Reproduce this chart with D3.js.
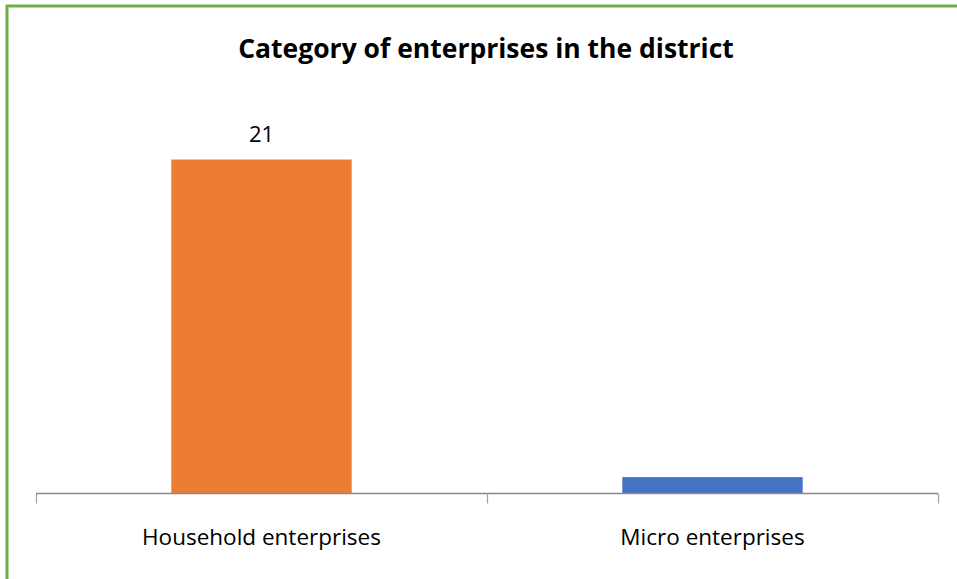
<!DOCTYPE html>
<html>
<head>
<meta charset="utf-8">
<script src="https://cdn.jsdelivr.net/npm/d3@7"></script>
<style>
  html, body { margin: 0; padding: 0; background: #fff; }
  svg { display: block; }
</style>
</head>
<body>
<div id="chart"></div>
<script>
// chart data
const categories = ["Household enterprises", "Micro enterprises"];
const values = [21, 1];
const valueLabels = ["21", ""];
const barColors = ["#ED7D31", "#4472C4"];
const yMax = 25;

const width = 957;
const height = 579;
const plot = {left: 36, right: 938, top: 96, bottom: 493};
const font = "'Open Sans', 'Liberation Sans', sans-serif";

const svg = d3.select("#chart")
  .append("svg")
  .attr("width", width)
  .attr("height", height);

// green frame (only top and left edges fall inside the picture)
svg.append("rect")
  .attr("x", 7)
  .attr("y", 6)
  .attr("width", width + 20)
  .attr("height", height + 20)
  .attr("fill", "none")
  .attr("stroke", "#70AD47")
  .attr("stroke-width", 3);

// title
svg.append("text")
  .attr("x", 486)
  .attr("y", 58)
  .attr("text-anchor", "middle")
  .attr("font-family", font)
  .attr("font-weight", "bold")
  .attr("font-size", "26.5px")
  .attr("fill", "#000")
  .text("Category of enterprises in the district");

// scales
const xScale = d3.scaleBand()
  .domain(categories)
  .range([plot.left, plot.right])
  .paddingInner(0.6)
  .paddingOuter(0.3);

const yScale = d3.scaleLinear()
  .domain([0, yMax])
  .range([plot.bottom, plot.top]);

// bars
svg.selectAll(".bar")
  .data(categories)
  .enter()
  .append("rect")
    .attr("class", "bar")
    .attr("x", d => xScale(d))
    .attr("y", (d, i) => yScale(values[i]))
    .attr("width", xScale.bandwidth())
    .attr("height", (d, i) => yScale(0) - yScale(values[i]))
    .attr("fill", (d, i) => barColors[i]);

// value labels
svg.selectAll(".val")
  .data(categories)
  .enter()
  .append("text")
    .attr("class", "val")
    .attr("x", d => xScale(d) + xScale.bandwidth() / 2)
    .attr("y", (d, i) => yScale(values[i]) - 18)
    .attr("text-anchor", "middle")
    .attr("font-family", font)
    .attr("font-size", "22px")
    .attr("fill", "#000")
    .text((d, i) => valueLabels[i]);

// x axis with ticks between categories
const xAxis = svg.append("g")
  .attr("transform", `translate(0,${plot.bottom + 0.5})`);

xAxis.append("line")
  .attr("x1", plot.left)
  .attr("x2", plot.right)
  .attr("stroke", "#898989")
  .attr("stroke-width", 1.5);

const edges = d3.range(categories.length + 1).map(i => plot.left + i * xScale.step() / 1 * (categories.length / categories.length));

xAxis.selectAll(".tick")
  .data(edges)
  .enter()
  .append("line")
    .attr("class", "tick")
    .attr("x1", d => Math.round(d) + 0.5)
    .attr("x2", d => Math.round(d) + 0.5)
    .attr("y1", 0)
    .attr("y2", 10)
    .attr("stroke", "#a0a0a0")
    .attr("stroke-width", 1.2);

xAxis.selectAll(".cat")
  .data(categories)
  .enter()
  .append("text")
    .attr("class", "cat")
    .attr("x", d => xScale(d) + xScale.bandwidth() / 2)
    .attr("y", 51)
    .attr("text-anchor", "middle")
    .attr("font-family", font)
    .attr("font-size", "22.5px")
    .attr("fill", "#000")
    .text(d => d);
</script>
</body>
</html>
